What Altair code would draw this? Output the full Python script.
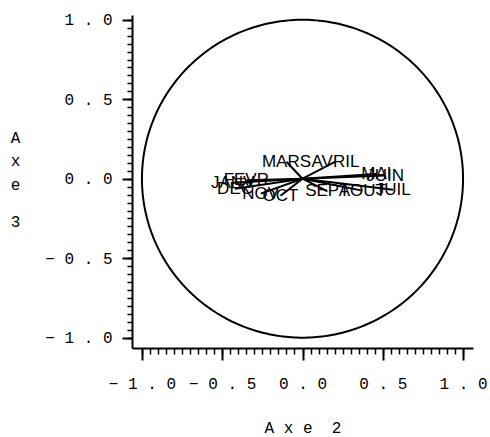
import altair as alt
import pandas as pd

# Month variables projected on axes 2 and 3 of the PCA
months = ["JANV", "FEVR", "MARS", "AVRIL", "MAI", "JUIN",
          "JUIL", "AOUT", "SEPT", "OCT", "NOV", "DEC"]
axe2 = [-0.435, -0.35, -0.10, 0.205, 0.46, 0.515,
        0.565, 0.373, 0.155, -0.137, -0.26, -0.42]
axe3 = [-0.025, -0.01, 0.107, 0.107, 0.03, 0.02,
        -0.07, -0.075, -0.08, -0.107, -0.094, -0.063]

major_ticks = [-1.0, -0.5, 0.0, 0.5, 1.0]
minor_ticks = [round(-1 + 0.05 * i, 2) for i in range(41)]

df = pd.DataFrame({"mois": months, "x": axe2, "y": axe3})

mono = "Liberation Mono"
fsize = 16
nbsp = "\u00a0"
xdom = [-1.062, 1.062]
ydom = [-1.065, 1.03]

# "0.5" -> "0 . 5"
label_expr = "join(split(format(datum.value, '.1f'), ''), '\u00a0')"

xscale = alt.Scale(domain=xdom, nice=False, zero=False)
yscale = alt.Scale(domain=ydom, nice=False, zero=False)

x_title = nbsp.join(["A", "x", "e", "", "2"])

x_major = alt.X("x:Q", scale=xscale,
                axis=alt.Axis(orient="bottom", values=major_ticks, title=x_title,
                              labelExpr=label_expr, tickSize=12, tickWidth=2, domainWidth=2,
                              domainColor="black", tickColor="black", labelFont=mono,
                              labelFontSize=fsize, labelColor="black", labelPadding=15,
                              labelFlush=False, titleFont=mono, titleFontSize=fsize,
                              titleFontWeight="normal", titleColor="black", titlePadding=28,
                              grid=False))
# Vertical "Axe" written one letter per line
y_major = alt.Y("y:Q", scale=yscale,
                axis=alt.Axis(orient="left", values=major_ticks,
                              title=["A", "x", "e"],
                              labelExpr=label_expr, tickSize=10, tickWidth=2, domainWidth=2,
                              domainColor="black", tickColor="black", labelFont=mono,
                              labelFontSize=fsize, labelColor="black", labelPadding=10,
                              labelFlush=False, titleFont=mono, titleFontSize=fsize,
                              titleFontWeight="normal", titleColor="black", titleAngle=0,
                              titleLineHeight=23.5, titleBaseline="middle",
                              titleAlign="center", titleX=-117, titleY=122, grid=False))

# Vectors from the origin to each month
arrows = alt.Chart(df).mark_rule(color="black", strokeWidth=2).encode(
    x=x_major, y=y_major, x2=alt.datum(0), y2=alt.datum(0)
)

labels = alt.Chart(df).mark_text(font="Liberation Sans", fontSize=17, color="black",
                                 align="center", baseline="middle").encode(
    x=alt.X("x:Q", scale=xscale, axis=None),
    y=alt.Y("y:Q", scale=yscale, axis=None),
    text="mois:N"
)

# Unit correlation circle
circle = alt.Chart(alt.sequence(0, 361, 1, as_="deg")).transform_calculate(
    cx="cos(datum.deg * PI / 180)", cy="sin(datum.deg * PI / 180)"
).mark_line(color="black", strokeWidth=2).encode(
    x=alt.X("cx:Q", scale=xscale, axis=None),
    y=alt.Y("cy:Q", scale=yscale, axis=None),
    order="deg:Q"
)

# Minor ticks every 0.05 on both axes; the left one also carries the axis number
minor_x = alt.Chart(df).mark_point(opacity=0).encode(
    x=alt.X("x:Q", scale=xscale,
            axis=alt.Axis(orient="bottom", values=minor_ticks, labels=False, title=None,
                          domain=False, tickSize=6, tickWidth=1.5, tickColor="black",
                          grid=False))
)
minor_y = alt.Chart(df).mark_point(opacity=0).encode(
    y=alt.Y("y:Q", scale=yscale,
            axis=alt.Axis(orient="left", values=minor_ticks, labels=False, title="3",
                          domain=False, tickSize=5, tickWidth=1.5, tickColor="black",
                          titleFont=mono, titleFontSize=fsize, titleFontWeight="normal",
                          titleColor="black", titleAngle=0, titleBaseline="middle",
                          titleAlign="center", titleX=-117, titleY=206, grid=False))
)

chart = alt.layer(arrows, circle, labels, minor_x, minor_y).resolve_axis(
    x="independent", y="independent"
).properties(
    width=341, height=333,
    background="white",
    autosize=alt.AutoSizeParams(type="none"),
    padding={"left": 132, "top": 15, "right": 17, "bottom": 89},
).configure_view(stroke=None)

chart.save("out.html", embed_options={"renderer": "svg", "actions": False})
